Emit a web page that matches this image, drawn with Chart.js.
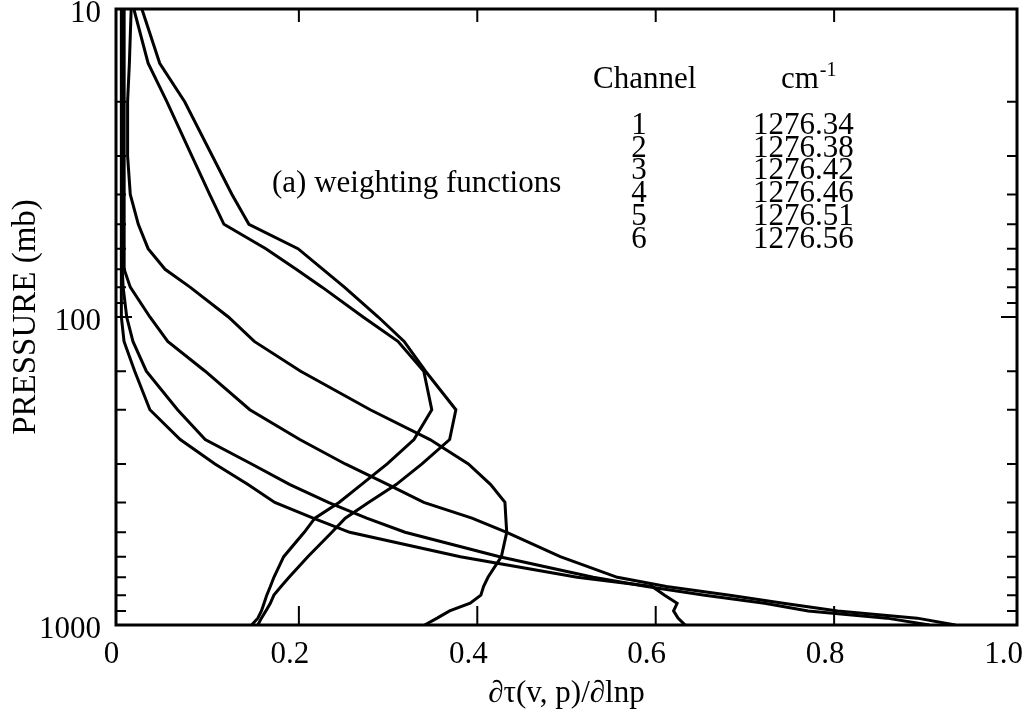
<!DOCTYPE html>
<html>
<head>
<meta charset="utf-8">
<script src="https://cdn.jsdelivr.net/npm/chart.js"></script>
<style>
  body { margin: 0; background: #fff; }
  canvas { display: block; }
</style>
</head>
<body>
<canvas id="chart" width="1025" height="714"></canvas>
<script>
// pressure levels (mb) shared by every channel
var pressure = [10, 15, 20, 30, 40, 50, 60, 70, 80, 100, 120, 150, 200, 250, 300, 350, 400, 450, 500, 600, 700, 750, 800, 850, 900, 950, 1000];

// weighting function values, one array per channel
var channel1 = [0.024, 0.044, 0.072, 0.103, 0.125, 0.144, 0.199, 0.227, 0.251, 0.289, 0.318, 0.342, 0.376, 0.369, 0.338, 0.309, 0.278, 0.252, 0.237, 0.210, 0.189, 0.180, 0.172, 0.168, 0.163, 0.158, 0.154];
var channel2 = [0.015, 0.031, 0.052, 0.080, 0.100, 0.116, 0.163, 0.197, 0.226, 0.272, 0.311, 0.340, 0.349, 0.329, 0.299, 0.270, 0.245, 0.218, 0.206, 0.183, 0.172, 0.168, 0.164, 0.161, 0.158, 0.154, 0.147];
var channel3 = [0.012, 0.010, 0.008, 0.008, 0.011, 0.020, 0.031, 0.050, 0.078, 0.121, 0.150, 0.202, 0.280, 0.347, 0.390, 0.415, 0.431, 0.432, 0.433, 0.427, 0.412, 0.407, 0.404, 0.392, 0.369, 0.355, 0.341];
var channel4 = [0.001, 0.001, 0.001, 0.001, 0.001, 0.001, 0.001, 0.001, 0.001, 0.001, 0.004, 0.016, 0.033, 0.067, 0.106, 0.143, 0.173, 0.216, 0.257, 0.381, 0.512, 0.596, 0.610, 0.624, 0.620, 0.625, 0.633];
var channel5 = [0.002, 0.002, 0.002, 0.002, 0.002, 0.002, 0.002, 0.002, 0.003, 0.007, 0.014, 0.029, 0.064, 0.095, 0.147, 0.190, 0.233, 0.276, 0.319, 0.425, 0.530, 0.590, 0.655, 0.722, 0.771, 0.859, 0.907];
var channel6 = [0.004, 0.004, 0.004, 0.004, 0.004, 0.004, 0.004, 0.005, 0.011, 0.033, 0.053, 0.095, 0.145, 0.201, 0.252, 0.300, 0.340, 0.394, 0.433, 0.493, 0.557, 0.612, 0.683, 0.743, 0.804, 0.893, 0.936];

var channelNumbers = ['1', '2', '3', '4', '5', '6'];
var wavenumbers = ['1276.34', '1276.38', '1276.42', '1276.46', '1276.51', '1276.56'];

var xTickValues = [0, 0.2, 0.4, 0.6, 0.8, 1.0];
var yTickLabels = [10, 100, 1000];

var SERIF = "'Liberation Serif', 'Times New Roman', serif";

function toPoints(values) {
    var out = [];
    for (var i = 0; i < pressure.length; i++) {
        out.push({ x: values[i], y: pressure[i] });
    }
    return out;
}

function newDataset(values) {
    return {
        data: toPoints(values),
        showLine: true,
        borderColor: '#000',
        borderWidth: 3,
        pointRadius: 0,
        tension: 0
    };
}

// box round the plot with inward tick marks, plus the text inside the plot
var framePlugin = {
    id: 'frame',
    afterDatasetsDraw: function(chart) {
        var ctx = chart.ctx;
        var a = chart.chartArea;
        var x = chart.scales.x;
        var y = chart.scales.y;
        ctx.save();
        ctx.strokeStyle = '#000';
        ctx.lineWidth = 3;
        ctx.strokeRect(a.left, a.top, a.right - a.left, a.bottom - a.top);

        ctx.lineWidth = 2;
        ctx.beginPath();
        xTickValues.forEach(function(v) {
            if (v <= 0 || v >= 1) return;
            var px = x.getPixelForValue(v);
            ctx.moveTo(px, a.bottom);
            ctx.lineTo(px, a.bottom - 19);
            ctx.moveTo(px, a.top);
            ctx.lineTo(px, a.top + 13);
        });
        y.ticks.forEach(function(t) {
            if (t.value <= 10 || t.value >= 1000) return;
            var py = y.getPixelForValue(t.value);
            var len = t.value === 100 ? 16 : 10;
            ctx.moveTo(a.left, py);
            ctx.lineTo(a.left + len, py);
            ctx.moveTo(a.right, py);
            ctx.lineTo(a.right - len, py);
        });
        ctx.stroke();

        ctx.fillStyle = '#000';
        ctx.font = '31px ' + SERIF;
        ctx.textBaseline = 'alphabetic';
        ctx.textAlign = 'left';
        ctx.fillText('(a) weighting functions', 272, 192);
        ctx.fillText('Channel', 593, 88);
        ctx.fillText('cm', 781, 88);
        var cmRight = 781 + ctx.measureText('cm').width;
        ctx.font = '20px ' + SERIF;
        ctx.fillText('-1', cmRight + 1, 76);
        ctx.font = '31px ' + SERIF;
        for (var i = 0; i < channelNumbers.length; i++) {
            var base = 134 + i * 22.7;
            ctx.textAlign = 'center';
            ctx.fillText(channelNumbers[i], 639, base);
            ctx.textAlign = 'left';
            ctx.fillText(wavenumbers[i], 753, base);
        }
        ctx.restore();
    }
};

var chart = new Chart(document.getElementById('chart').getContext('2d'), {
    type: 'scatter',
    data: {
        datasets: [channel1, channel2, channel3, channel4, channel5, channel6].map(newDataset)
    },
    options: {
        responsive: false,
        animation: false,
        layout: { padding: { top: 9, right: 8, bottom: 0, left: 0 } },
        plugins: {
            legend: { display: false },
            tooltip: { enabled: false }
        },
        scales: {
            x: {
                type: 'linear',
                min: -0.005,
                max: 1.005,
                grid: { display: false },
                border: { display: false },
                afterBuildTicks: function(scale) {
                    scale.ticks = xTickValues.map(function(v) { return { value: v }; });
                },
                afterFit: function(scale) {
                    scale.height = 89;
                    scale.paddingLeft = 0;
                    scale.paddingRight = 0;
                },
                ticks: {
                    autoSkip: false,
                    maxRotation: 0,
                    padding: 3,
                    labelOffset: -9,
                    color: '#000',
                    font: { family: SERIF, size: 31 },
                    callback: function(v) { return v === 0 ? '0' : v.toFixed(1); }
                },
                title: {
                    display: true,
                    text: '∂τ(v, p)/∂lnp',
                    color: '#000',
                    font: { family: SERIF, size: 31 },
                    padding: { top: 0, bottom: 2 }
                }
            },
            y: {
                type: 'logarithmic',
                min: 10,
                max: 1000,
                reverse: true,
                grid: { display: false },
                border: { display: false },
                afterFit: function(scale) {
                    scale.width = 116;
                    scale.paddingTop = 0;
                    scale.paddingBottom = 0;
                },
                ticks: {
                    autoSkip: false,
                    padding: 7,
                    labelOffset: 5,
                    color: '#000',
                    font: { family: SERIF, size: 31 },
                    callback: function(v) { return yTickLabels.indexOf(v) >= 0 ? String(v) : ''; }
                },
                title: {
                    display: true,
                    text: 'PRESSURE (mb)',
                    color: '#000',
                    font: { family: SERIF, size: 33 },
                    padding: { top: 7, bottom: 0 }
                }
            }
        }
    },
    plugins: [framePlugin]
});
</script>
</body>
</html>
